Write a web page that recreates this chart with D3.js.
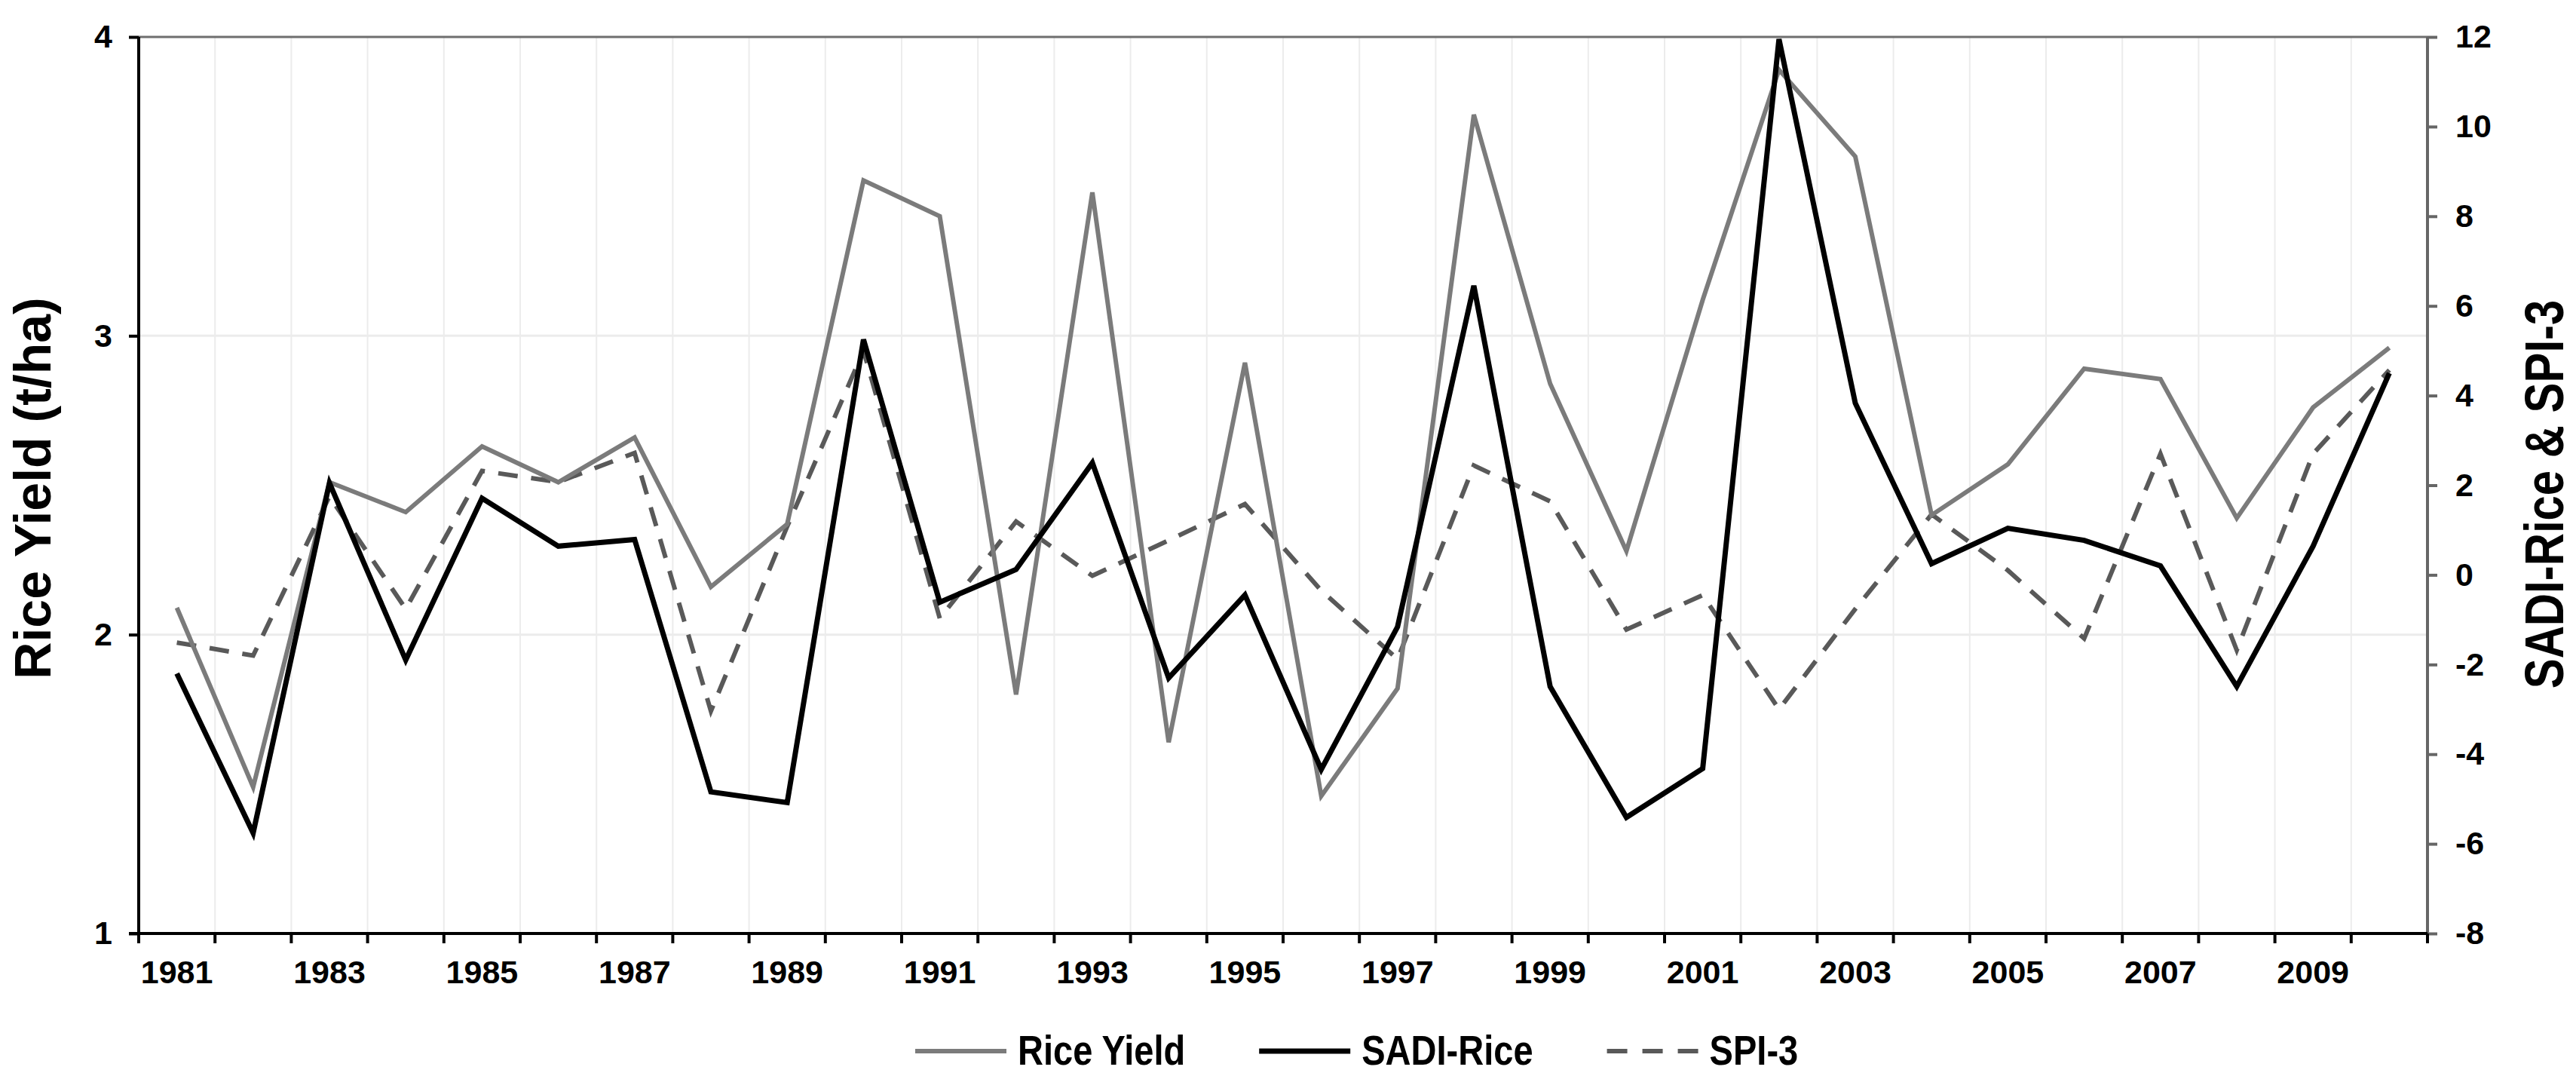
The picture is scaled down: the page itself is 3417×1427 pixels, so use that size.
<!DOCTYPE html>
<html>
<head>
<meta charset="utf-8">
<script src="https://cdn.jsdelivr.net/npm/d3@7"></script>
<style>
  html, body { margin: 0; padding: 0; background: #fff; }
  svg { display: block; }
  .tick text { font-family: "Liberation Sans", Arial, Helvetica, sans-serif; font-weight: bold; font-size: 43px; fill: #000; }
</style>
</head>
<body>
<svg id="chart" width="3417" height="1427"></svg>
<script>
// ---------------- data ----------------
const years = ["1981","1982","1983","1984","1985","1986","1987","1988","1989","1990",
               "1991","1992","1993","1994","1995","1996","1997","1998","1999","2000",
               "2001","2002","2003","2004","2005","2006","2007","2008","2009","2010"];
const yearLabels = ["1981","1983","1985","1987","1989","1991","1993","1995","1997","1999",
                    "2001","2003","2005","2007","2009"];
const riceYield = [2.09, 1.49, 2.51, 2.41, 2.63, 2.51, 2.66, 2.16, 2.37, 3.52,
                   3.40, 1.80, 3.48, 1.64, 2.91, 1.46, 1.82, 3.74, 2.84, 2.28,
                   3.12, 3.89, 3.60, 2.40, 2.57, 2.89, 2.855, 2.39, 2.76, 2.96];
const sadiRice  = [-2.20, -5.76, 2.05, -1.90, 1.71, 0.64, 0.79, -4.84, -5.08, 5.25,
                   -0.61, 0.12, 2.50, -2.30, -0.45, -4.34, -1.16, 6.45, -2.49, -5.41,
                   -4.32, 11.95, 3.83, 0.25, 1.04, 0.77, 0.20, -2.49, 0.64, 4.50];
const spi3      = [-1.51, -1.80, 1.75, -0.76, 2.32, 2.07, 2.72, -3.04, 1.08, 5.00,
                   -0.97, 1.19, -0.02, 0.77, 1.58, -0.35, -1.88, 2.44, 1.64, -1.22,
                   -0.45, -3.00, -0.76, 1.35, 0.10, -1.42, 2.70, -1.68, 2.70, 4.57];
const leftTicks  = [1, 2, 3, 4];
const rightTicks = [-8, -6, -4, -2, 0, 2, 4, 6, 8, 10, 12];
const seriesNames = ["Rice Yield", "SADI-Rice", "SPI-3"];

// ---------------- layout ----------------
const L = 184, R = 3220, T = 49, B = 1238;
const FONT = "'Liberation Sans', Arial, Helvetica, sans-serif";
const svg = d3.select("#chart");

const x = d3.scaleBand().domain(years).range([L, R]).padding(0);
const yL = d3.scaleLinear().domain([1, 4]).range([B, T]);
const yR = d3.scaleLinear().domain([-8, 12]).range([B, T]);
const cx = d => x(d) + x.bandwidth() / 2;

// gridlines
const grid = svg.append("g");
grid.selectAll("line.v").data(years.slice(1)).join("line")
  .attr("x1", d => x(d)).attr("x2", d => x(d))
  .attr("y1", T).attr("y2", B)
  .attr("stroke", "#ececec").attr("stroke-width", 2);
grid.selectAll("line.h").data([2, 3]).join("line")
  .attr("x1", L).attr("x2", R)
  .attr("y1", d => yL(d)).attr("y2", d => yL(d))
  .attr("stroke", "#ececec").attr("stroke-width", 3);

// top border
svg.append("line").attr("x1", L).attr("x2", R).attr("y1", T).attr("y2", T)
  .attr("stroke", "#6e6e6e").attr("stroke-width", 3);

// series
const series = [
  { name: seriesNames[0], values: riceYield, scale: yL, color: "#7b7b7b", width: 6, dash: null },
  { name: seriesNames[1], values: sadiRice,  scale: yR, color: "#000000", width: 7, dash: null },
  { name: seriesNames[2], values: spi3,      scale: yR, color: "#595959", width: 6, dash: "26,18" }
];
const drawOrder = [2, 0, 1];
drawOrder.forEach(i => {
  const s = series[i];
  const line = d3.line().x((v, k) => cx(years[k])).y(v => s.scale(v));
  svg.append("path").attr("d", line(s.values))
    .attr("fill", "none").attr("stroke", s.color).attr("stroke-width", s.width)
    .attr("stroke-linejoin", "miter").attr("stroke-dasharray", s.dash);
});

// left axis
const axL = svg.append("g").attr("transform", `translate(${L},0)`)
  .call(d3.axisLeft(yL).tickValues(leftTicks).tickFormat(d3.format("d")).tickSize(13).tickPadding(22));
axL.select(".domain").attr("stroke", "#000").attr("stroke-width", 4).attr("d", `M0,${T}V${B}`);
axL.selectAll(".tick line").attr("stroke", "#000").attr("stroke-width", 4);

// right axis
const axR = svg.append("g").attr("transform", `translate(${R},0)`)
  .call(d3.axisRight(yR).tickValues(rightTicks).tickFormat(d3.format("d")).tickSize(13).tickPadding(24));
axR.select(".domain").attr("stroke", "#666").attr("stroke-width", 4).attr("d", `M0,${T}V${B}`);
axR.selectAll(".tick line").attr("stroke", "#666").attr("stroke-width", 4);
axR.selectAll(".tick text").text(d => d < 0 ? "-" + Math.abs(d) : d);

// bottom axis: labels centred in categories, ticks at category boundaries
const axB = svg.append("g").attr("transform", `translate(0,${B})`)
  .call(d3.axisBottom(x).tickValues(yearLabels).tickSize(0).tickPadding(35));
axB.select(".domain").remove();
svg.append("line").attr("x1", L - 13).attr("x2", R).attr("y1", B).attr("y2", B)
  .attr("stroke", "#000").attr("stroke-width", 4);
svg.append("g").selectAll("line").data(years.concat(["end"])).join("line")
  .attr("x1", d => d === "end" ? R : x(d)).attr("x2", d => d === "end" ? R : x(d))
  .attr("y1", B).attr("y2", B + 13)
  .attr("stroke", "#000").attr("stroke-width", 4);

// axis titles
svg.append("text")
  .attr("transform", `translate(67,${(T + B) / 2 + 4}) rotate(-90)`)
  .attr("text-anchor", "middle")
  .style("font-family", FONT)
  .style("font-weight", "bold").style("font-size", "68px")
  .text("Rice Yield (t/ha)");
svg.append("text")
  .attr("transform", `translate(3400,${(T + B) / 2 + 12}) rotate(-90) scale(0.82,1)`)
  .attr("text-anchor", "middle")
  .style("font-family", FONT)
  .style("font-weight", "bold").style("font-size", "73px")
  .text("SADI-Rice & SPI-3");

// legend (condensed bold text)
const lg = svg.append("g");
let lx = 1214;
const ly = 1394;
series.forEach((s, i) => {
  lg.append("line").attr("x1", lx).attr("x2", lx + 121).attr("y1", ly).attr("y2", ly)
    .attr("stroke", s.color).attr("stroke-width", s.width)
    .attr("stroke-dasharray", s.dash ? "27,20" : null);
  const tx = lx + 136;
  const t = lg.append("text")
    .attr("transform", `translate(${tx},${ly + 18}) scale(0.84,1)`)
    .style("font-family", FONT)
    .style("font-weight", "bold").style("font-size", "56px")
    .text(s.name);
  lx = tx + t.node().getComputedTextLength() * 0.84 + 98;
});
</script>
</body>
</html>
